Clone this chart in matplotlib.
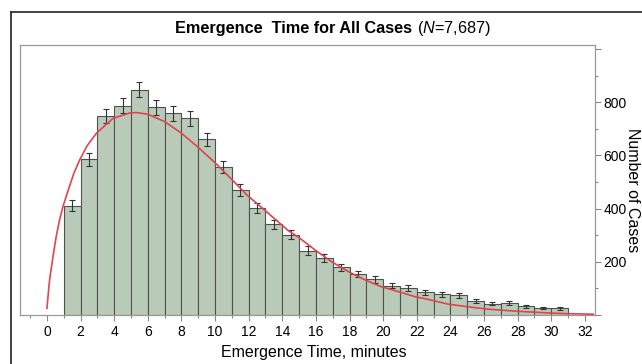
import numpy as np
import matplotlib
matplotlib.use("Agg")
import matplotlib.pyplot as plt
from matplotlib.lines import Line2D
from matplotlib.ticker import MultipleLocator

plt.rcParams['font.family'] = ['Liberation Sans', 'DejaVu Sans']
plt.rcParams['mathtext.fontset'] = 'custom'
plt.rcParams['mathtext.rm'] = 'Liberation Sans'
plt.rcParams['mathtext.it'] = 'Liberation Sans:italic'

# histogram bins (minutes), counts and error bars
bin_left = np.arange(1, 31)
counts = [411, 586, 748, 787, 847, 781, 759, 739, 660, 556,
          469, 402, 341, 301, 242, 213, 179, 155, 134, 110,
          101, 85, 78, 74, 53, 43, 44, 33, 26, 25]
errors = [20, 24, 27, 28, 29, 28, 28, 27, 26, 24,
          22, 20, 18, 17, 16, 15, 13, 12, 12, 10,
          10, 9, 9, 9, 7, 7, 7, 6, 5, 5]

# fitted curve, points
fit_x = [0.0, 0.16, 0.36, 0.55, 0.75, 0.95, 1.24, 1.6, 1.95, 2.4, 2.94, 3.93,
         4.9, 5.3, 5.9, 6.1, 7.0, 7.97, 8.95, 9.94, 10.93, 11.9,
         12.9, 14.38, 14.97, 15.96, 16.94, 17.93, 18.92, 19.9, 20.9, 21.88,
         22.66, 23.06, 23.85, 25.03, 26.2, 27.98, 29.76, 30.9, 32.5]
fit_y = [25, 132, 219, 294, 357, 407, 464, 532, 583, 637, 683, 739,
         759, 761, 756, 752, 727, 685, 633, 576, 514, 451,
         397, 316, 292, 244, 200, 163, 132, 106, 88, 69,
         59, 53, 41, 31, 22, 14, 8, 5, 3]

W, H = 642, 364
fig = plt.figure(figsize=(W / 100, H / 100), dpi=100)
ax = fig.add_axes([20 / W, 1 - 315 / H, 575 / W, 270 / H])

ax.bar(bin_left, counts, width=1.0, align='edge', color='#b9cbb8',
       edgecolor='#505050', linewidth=0.8, zorder=2)
ax.errorbar(np.array(bin_left) + 0.5, counts, yerr=errors, fmt='none',
            ecolor='#333333', elinewidth=0.8, capsize=2.5, capthick=0.8, zorder=3)
ax.plot(fit_x, fit_y, color='#e2434f', linewidth=1.2, zorder=4)

ax.set_xlim(-1.6, 32.6)
ax.set_ylim(0, 1015)

ax.set_xticks(np.arange(0, 33, 2))
ax.xaxis.set_minor_locator(MultipleLocator(1))
ax.yaxis.tick_right()
ax.set_yticks([0, 200, 400, 600, 800, 1000])
ax.set_yticklabels(['', '200', '400', '600', '800', ''])
ax.yaxis.set_minor_locator(MultipleLocator(100))
ax.tick_params(axis='both', which='major', length=4, width=0.8, color='#888888',
               labelsize=10, pad=2)
ax.tick_params(axis='both', which='minor', length=2.5, width=0.8, color='#888888')
ax.tick_params(axis='x', pad=3)

for s in ax.spines.values():
    s.set_color('#999999')
    s.set_linewidth(0.9)

fig.text(412 / W, 1 - 28 / H, 'Emergence  Time for All Cases', ha='right', va='center',
         fontsize=11.7, fontweight='bold')
fig.text(417 / W, 1 - 28 / H, r'($\mathit{N}$=7,687)', ha='left', va='center', fontsize=11.7)
fig.text(314 / W, 1 - 352 / H, 'Emergence Time, minutes', ha='center', va='center', fontsize=11.5)
fig.text(632 / W, 1 - 190 / H, 'Number of Cases', ha='center', va='center',
         rotation=270, fontsize=11.5)

# outer frame
fx, fy = 11 / W, 1 - 12 / H
fig.add_artist(Line2D([fx, fx], [0, fy], transform=fig.transFigure, color='#222222', lw=1.2))
fig.add_artist(Line2D([fx, 1], [fy, fy], transform=fig.transFigure, color='#222222', lw=1.2))

fig.savefig('out.png', dpi=100)
